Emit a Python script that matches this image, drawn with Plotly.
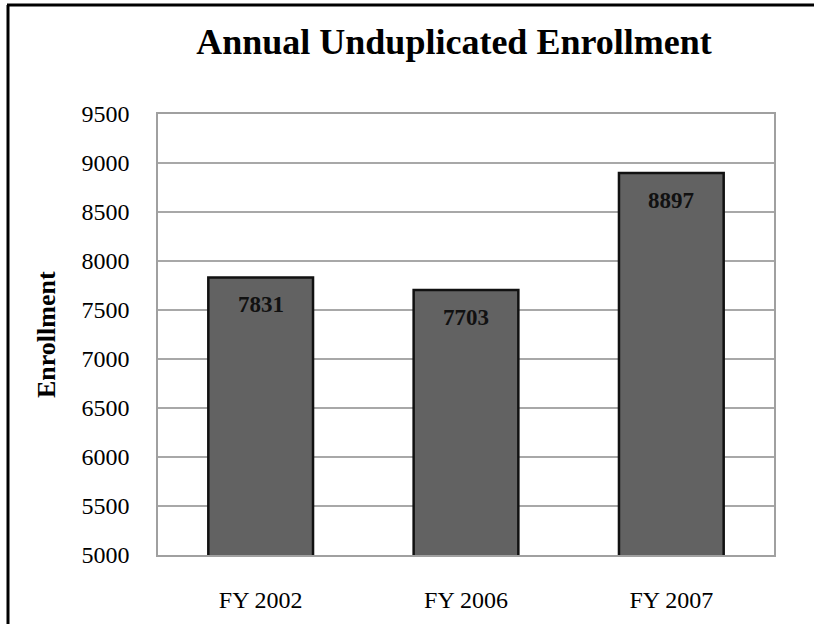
import plotly.graph_objects as go

categories = ["FY 2002", "FY 2006", "FY 2007"]
enrollment = [7831, 7703, 8897]
y_ticks = [5000, 5500, 6000, 6500, 7000, 7500, 8000, 8500, 9000, 9500]

W, H = 814, 624
ml, mr, mt, mb = 158, 40, 114, 69
PW, PH = W - ml - mr, H - mt - mb

fig = go.Figure()
fig.add_trace(go.Bar(
    x=categories, y=enrollment,
    marker=dict(color="#626262", line=dict(color="#111111", width=2.5)),
    hoverinfo="skip",
))

for c, v in zip(categories, enrollment):
    fig.add_annotation(x=c, y=v, text=f"<b>{v}</b>", showarrow=False,
                       yshift=-27, font=dict(family="Liberation Serif", size=23, color="#111111"))

font = dict(family="Liberation Serif", size=24, color="#000000")
fig.update_layout(
    width=W, height=H,
    margin=dict(l=ml, r=mr, t=mt, b=mb),
    paper_bgcolor="white", plot_bgcolor="white",
    bargap=0.49,
    showlegend=False,
    title=dict(text="<b>Annual Unduplicated Enrollment</b>", x=454 / W, xanchor="center",
               y=1 - 41 / H, yanchor="middle",
               font=dict(family="Liberation Serif", size=36, color="#000000")),
    xaxis=dict(tickfont=font, showline=True, linecolor="#a0a0a0", linewidth=1.5,
               mirror=True, ticks="", ticklabelstandoff=22, fixedrange=True),
    yaxis=dict(range=[5000, 9500], tickvals=y_ticks, tickfont=font,
               showgrid=True, gridcolor="#a8a8a8", gridwidth=1.5,
               showline=True, linecolor="#a0a0a0", linewidth=1.5, mirror=True,
               ticks="", ticklabelstandoff=22, zeroline=False, fixedrange=True),
)

# Y axis title
fig.add_annotation(text="<b>Enrollment</b>", xref="paper", yref="paper",
                   x=(46 - ml) / PW, y=(H - mb - 335) / PH, xanchor="center", yanchor="middle",
                   textangle=-90, showarrow=False,
                   font=dict(family="Liberation Serif", size=26, color="#000000"))

# Outer border (top and left lines)
fig.add_shape(type="line", xref="paper", yref="paper",
              x0=(7 - ml) / PW, x1=(W + 5 - ml) / PW,
              y0=1 + (mt - 5) / PH, y1=1 + (mt - 5) / PH,
              line=dict(color="black", width=3))
fig.add_shape(type="line", xref="paper", yref="paper",
              x0=(8 - ml) / PW, x1=(8 - ml) / PW,
              y0=1 + (mt - 5) / PH, y1=-(mb + 5) / PH,
              line=dict(color="black", width=3))

fig.write_html("out.html")
